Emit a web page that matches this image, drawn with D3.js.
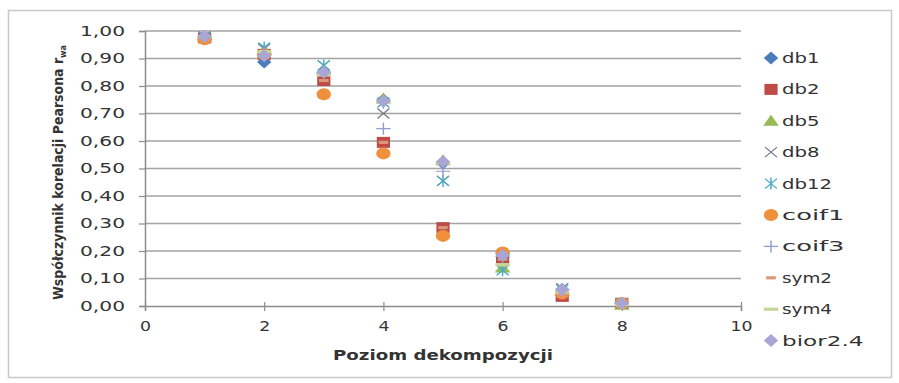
<!DOCTYPE html>
<html><head><meta charset="utf-8">
<script src="https://cdn.jsdelivr.net/npm/d3@7"></script>
<style>body{margin:0;background:#fff}svg{display:block}</style>
</head><body>
<svg id="c" width="899" height="383"></svg>
<script>
const levels = [1,2,3,4,5,6,7,8];
const seriesNames = ["db1","db2","db5","db8","db12","coif1","coif3","sym2","sym4","bior2.4"];
const db1   = [0.975,0.887,0.850,0.750,0.520,0.190,0.060,0.010];
const db2   = [0.975,0.915,0.820,0.595,0.285,0.175,0.035,0.010];
const db5   = [0.980,0.930,0.860,0.755,0.530,0.140,0.055,0.005];
const db8   = [0.980,0.935,0.875,0.700,0.455,0.185,0.065,0.010];
const db12  = [0.980,0.940,0.875,0.740,0.455,0.130,0.060,0.010];
const coif1 = [0.970,0.915,0.770,0.555,0.255,0.195,0.045,0.010];
const coif3 = [0.980,0.920,0.850,0.645,0.490,0.180,0.060,0.010];
const sym2  = [0.970,0.915,0.820,0.595,0.285,0.170,0.040,0.010];
const sym4  = [0.980,0.925,0.840,0.745,0.520,0.150,0.050,0.005];
const bior24= [0.980,0.910,0.850,0.745,0.525,0.185,0.060,0.010];
const values = [db1,db2,db5,db8,db12,coif1,coif3,sym2,sym4,bior24];
const xTicks = [0,2,4,6,8,10];
const yTicks = [0,0.1,0.2,0.3,0.4,0.5,0.6,0.7,0.8,0.9,1.0];

const styles = [
  {shape:"diamond", color:"#4a7ebb"},
  {shape:"square", color:"#be4b48"},
  {shape:"triangle", color:"#98b954"},
  {shape:"x", color:"#7d7d8c"},
  {shape:"star", color:"#4bacc6"},
  {shape:"circle", color:"#f08f3c"},
  {shape:"plus", color:"#8f9dcf"},
  {shape:"dashS", color:"#d9977a"},
  {shape:"dashL", color:"#c9d49a"},
  {shape:"diamond", color:"#a7a6d4"}
];

const svg = d3.select("#c");
const x = d3.scaleLinear().domain([0,10]).range([145,741]);
const y = d3.scaleLinear().domain([0,1]).range([306,31]);

// outer frame
svg.append("rect").attr("x",8.5).attr("y",10.5).attr("width",883).attr("height",367)
  .attr("fill","none").attr("stroke","#c8c8c8").attr("stroke-width",1.5);

// gridlines
svg.append("g").selectAll("line").data(yTicks.slice(1)).join("line")
  .attr("x1",x(0)).attr("x2",x(10)).attr("y1",d=>y(d)).attr("y2",d=>y(d))
  .attr("stroke","#a3a3a3").attr("stroke-width",1.5);

const fmt = d => d3.format(".2f")(d).replace(".",",");

// y axis
const ya = svg.append("g").attr("transform",`translate(${x(0)},0)`)
  .call(d3.axisLeft(y).tickValues(yTicks).tickFormat(fmt).tickSize(6).tickPadding(14));
ya.select(".domain").attr("stroke","#8c8c8c").attr("stroke-width",1.5);
ya.selectAll(".tick line").attr("stroke","#8c8c8c").attr("stroke-width",1.2);
ya.selectAll("text").attr("font-family","DejaVu Sans").attr("font-size",13.5).attr("fill","#333")
  .attr("textLength",45).attr("lengthAdjust","spacingAndGlyphs");

// x axis
const xa = svg.append("g").attr("transform",`translate(0,${y(0)})`)
  .call(d3.axisBottom(x).tickValues(xTicks).tickFormat(d=>d).tickSize(5).tickPadding(10));
xa.select(".domain").attr("stroke","#8c8c8c").attr("stroke-width",1.5);
xa.selectAll(".tick line").attr("stroke","#8c8c8c").attr("stroke-width",1.2).attr("y1",-4);
xa.selectAll("text").attr("font-family","DejaVu Sans").attr("font-size",13.5).attr("fill","#333")
  .each(function(d){ d3.select(this).attr("textLength", String(d).length*11).attr("lengthAdjust","spacingAndGlyphs"); });

// axis titles
svg.append("text").attr("x",443).attr("y",360).attr("text-anchor","middle")
  .attr("font-family","DejaVu Sans").attr("font-weight","bold").attr("font-size",14).attr("fill","#333")
  .attr("textLength",220).attr("lengthAdjust","spacingAndGlyphs").text("Poziom dekompozycji");
const yt = svg.append("text").attr("transform","translate(63,300) rotate(-90)")
  .attr("font-family","DejaVu Sans").attr("font-weight","bold").attr("font-size",14).attr("fill","#333")
  .attr("textLength",255).attr("lengthAdjust","spacingAndGlyphs");
yt.append("tspan").text("Współczynnik korelacji Pearsona r");
yt.append("tspan").attr("font-size",9).attr("dy",3).text("wa");

function drawMarker(g, shape, color, cx, cy){
  const t = g.append("g").attr("transform",`translate(${cx},${cy}) scale(1.2,1)`);
  switch(shape){
    case "diamond":
      t.append("path").attr("d","M0,-6.5L6,0L0,6.5L-6,0Z").attr("fill",color); break;
    case "square":
      t.append("rect").attr("x",-5.5).attr("y",-5.5).attr("width",11).attr("height",11).attr("fill",color); break;
    case "triangle":
      t.append("path").attr("d","M0,-6L6.5,5L-6.5,5Z").attr("fill",color); break;
    case "x":
      t.append("path").attr("d","M-5,-5L5,5M-5,5L5,-5").attr("stroke",color).attr("stroke-width",1.1).attr("fill","none"); break;
    case "star":
      t.append("path").attr("d","M-5,-5L5,5M-5,5L5,-5M0,-6L0,6").attr("stroke",color).attr("stroke-width",1.2).attr("fill","none"); break;
    case "circle":
      t.append("circle").attr("r",6).attr("fill",color); break;
    case "plus":
      t.append("path").attr("d","M-6,0L6,0M0,-6L0,6").attr("stroke",color).attr("stroke-width",1.2).attr("fill","none"); break;
    case "dashS":
      t.append("rect").attr("x",-4).attr("y",-1.6).attr("width",8).attr("height",3.2).attr("fill",color); break;
    case "dashL":
      t.append("rect").attr("x",-6).attr("y",-1.6).attr("width",12).attr("height",3.2).attr("fill",color); break;
  }
}

// points
const pts = svg.append("g");
values.forEach((vals,i)=>{
  const g = pts.append("g");
  vals.forEach((v,j)=> drawMarker(g, styles[i].shape, styles[i].color, x(levels[j]), y(v)));
});

// legend
const lg = svg.append("g");
seriesNames.forEach((n,i)=>{
  const cy = 58 + i*31.4;
  drawMarker(lg, styles[i].shape, styles[i].color, 771, cy);
  lg.append("text").attr("x",782).attr("y",cy+5).attr("font-family","DejaVu Sans").attr("font-size",14)
    .attr("fill","#333").attr("textLength", n.length*12.5 + (n.includes(".")? -6:0)).attr("lengthAdjust","spacingAndGlyphs").text(n);
});
</script>
</body></html>
